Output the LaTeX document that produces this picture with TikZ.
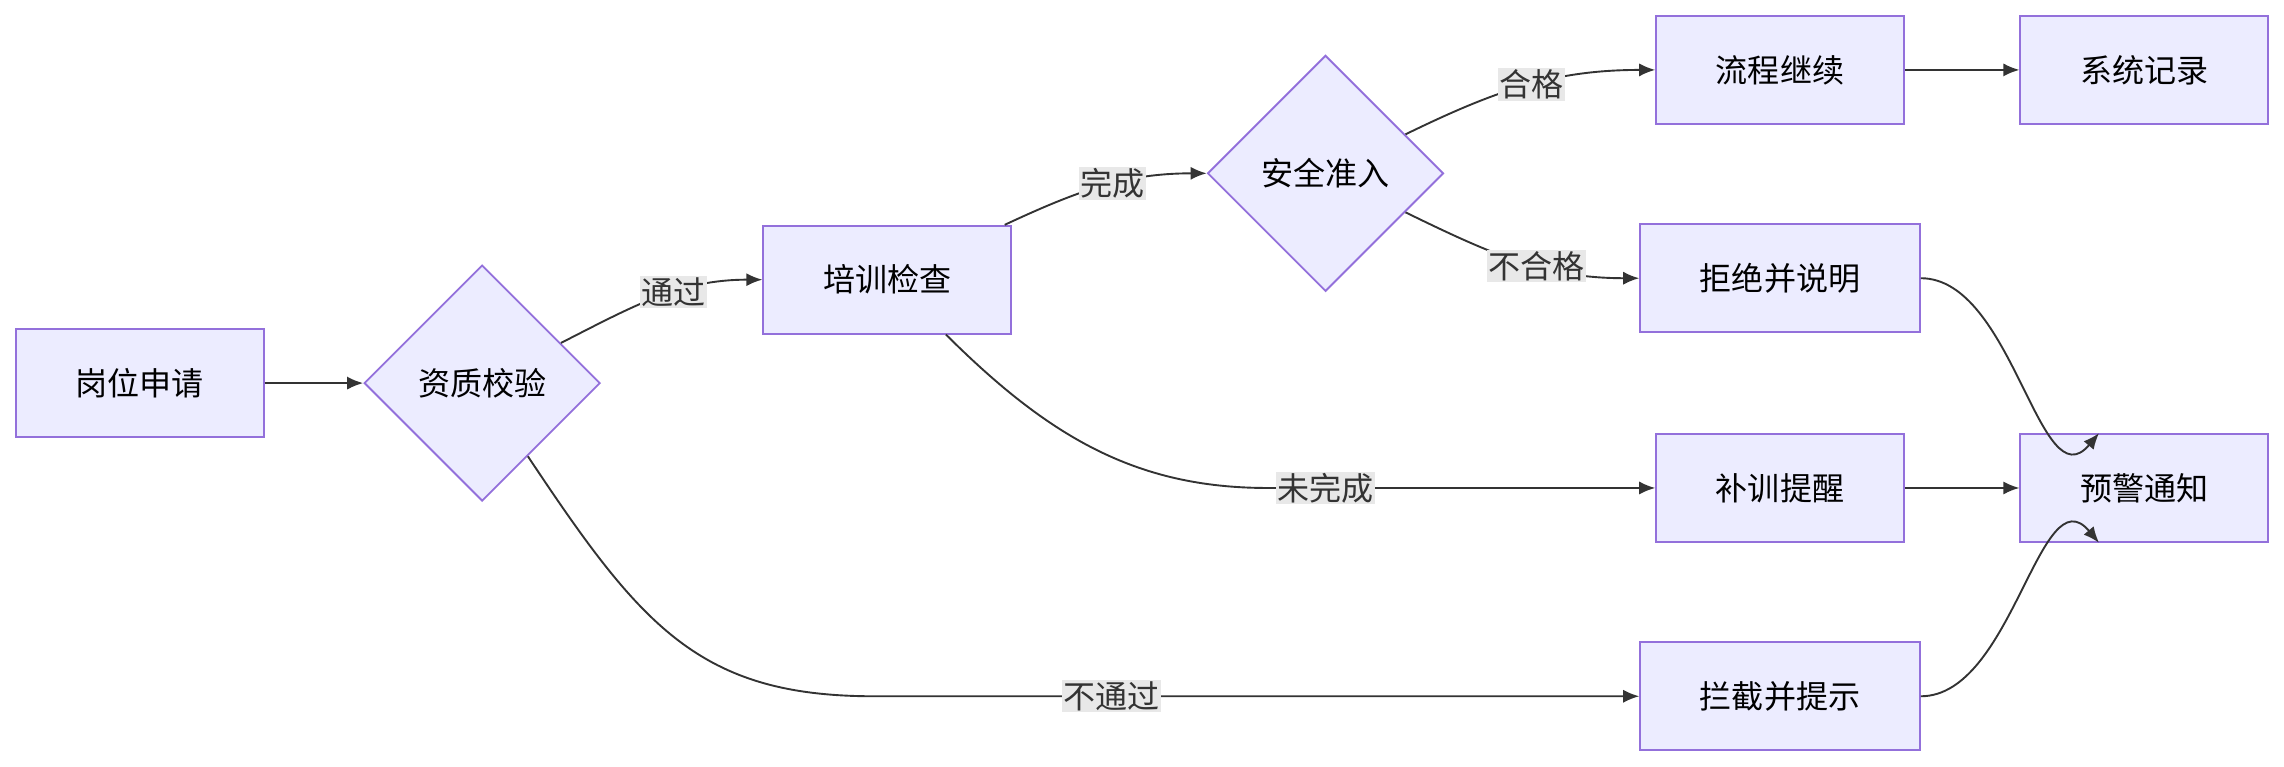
\documentclass[tikz,border=0pt]{standalone}
\usepackage{fontspec}
\newfontfamily\cjk{Noto Sans CJK SC}
\usetikzlibrary{shapes.geometric,arrows.meta}
\definecolor{boxfill}{HTML}{ECECFF}
\definecolor{boxline}{HTML}{9370DB}
\definecolor{edge}{HTML}{333333}
\definecolor{lblbg}{HTML}{E8E8E8}
\tikzset{
  box/.style={draw=boxline, fill=boxfill, line width=1.3pt, minimum height=74pt, inner sep=0pt, font=\cjk\fontsize{22}{26}\selectfont},
  check/.style={diamond, draw=boxline, fill=boxfill, line width=1.3pt, minimum width=162pt, minimum height=162pt, inner sep=0pt, font=\cjk\fontsize{22}{26}\selectfont},
  flow/.style={draw=edge, line width=1.3pt, -{Latex[length=11pt,width=9pt]}},
  lbl/.style={fill=lblbg, inner sep=1pt, text=edge, font=\cjk\fontsize{22}{26}\selectfont}
}
\begin{document}
\begin{tikzpicture}[x=1pt, y=-1pt]
    \useasboundingbox (0,0) rectangle (1568,526);

    % Nodos
    \node[box, minimum width=170pt] (apply) at (96,263) {岗位申请};
    \node[check] (qualify) at (331,263) {资质校验};
    \node[box, minimum width=170pt] (train) at (609,192) {培训检查};
    \node[check] (safety) at (910,119) {安全准入};
    \node[box, minimum width=170pt] (cont) at (1222,48) {流程继续};
    \node[box, minimum width=170pt] (record) at (1472,48) {系统记录};
    \node[box, minimum width=192pt] (reject) at (1222,191) {拒绝并说明};
    \node[box, minimum width=170pt] (retrain) at (1222,335) {补训提醒};
    \node[box, minimum width=170pt] (warn) at (1472,335) {预警通知};
    \node[box, minimum width=192pt] (block) at (1222,478) {拦截并提示};

    % Puntos de giro
    \coordinate (bendA) at (870,335);
    \coordinate (bendB) at (600,478);

    % Conectores
    \draw[flow] (apply) -- (qualify);
    \draw[flow] (qualify.27) to[out=27,in=180] node[lbl, pos=0.58] (lpass) {通过} (train.west);
    \draw[flow] (train.25) to[out=25,in=180] node[lbl, pos=0.55] (ldone) {完成} (safety.west);
    \draw[flow] (safety.26) to[out=26,in=180] node[lbl, pos=0.52] (lok) {合格} (cont.west);
    \draw[flow] (safety.-26) to[out=-26,in=180] node[lbl, pos=0.58] (lfail) {不合格} (reject.west);
    \draw[flow] (train.-43) .. controls (720,300) and (780,335) .. (bendA)
        -- node[lbl, pos=0.15] (lundone) {未完成} (retrain.west);
    \draw[flow] (qualify.-58) .. controls (440,430) and (480,478) .. (bendB)
        -- node[lbl, pos=0.31] (lnopass) {不通过} (block.west);
    \draw[flow] (cont) -- (record);
    \draw[flow] (retrain) -- (warn);
    \draw[flow] (reject.east) to[out=0,in=-130] ([xshift=-31pt]warn.north);
    \draw[flow] (block.east) to[out=0,in=130] ([xshift=-31pt]warn.south);
\end{tikzpicture}
\end{document}
